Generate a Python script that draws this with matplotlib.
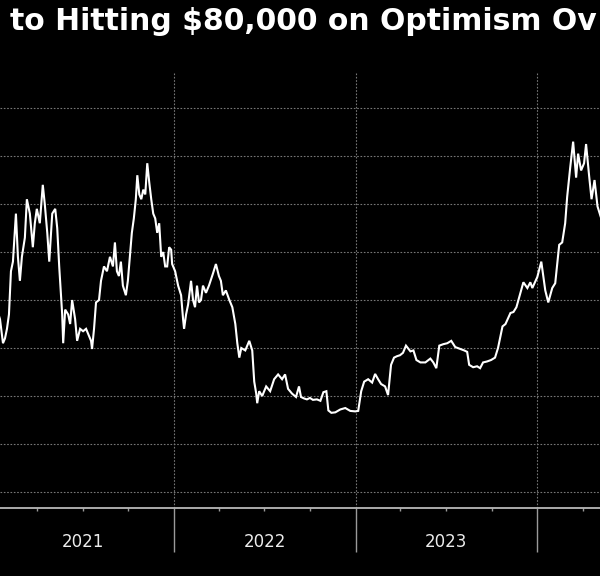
import matplotlib
matplotlib.use("Agg")
import matplotlib.pyplot as plt
import matplotlib.dates as mdates
import matplotlib.transforms as mtransforms
import pandas as pd

# Bitcoin price, thousands of USD
start = "2021-01-16"
day_offsets = [
    -6, 0, 6, 10, 14, 18, 22, 26, 32, 36, 40, 44, 50, 54, 60, 66, 70, 74, 80, 86,
    90, 95, 99, 105, 111, 115, 119, 125, 127, 131, 137, 141, 145, 151, 155, 161, 167, 173, 177, 183,
    185, 189, 193, 199, 203, 209, 215, 221, 227, 231, 235, 239, 243, 247, 253, 257, 261, 265, 269, 273,
    276, 280, 284, 288, 292, 296, 300, 304, 308, 312, 316, 320, 324, 328, 332, 336, 340, 344, 346, 352,
    358, 364, 368, 370, 374, 378, 384, 388, 392, 396, 400, 404, 408, 414, 420, 428, 434, 440, 444, 448,
    454, 461, 467, 473, 477, 481, 485, 493, 501, 507, 511, 515, 517, 521, 527, 535, 543, 551, 559, 567,
    573, 579, 587, 595, 601, 605, 611, 617, 623, 629, 637, 644, 650, 656, 660, 666, 674, 684, 694, 704,
    714, 720, 726, 732, 740, 748, 754, 760, 766, 774, 780, 786, 792, 798, 804, 810, 816, 825, 831, 837,
    845, 855, 865, 871, 877, 883, 891, 899, 907, 915, 925, 933, 939, 943, 951, 959, 965, 971, 979, 987,
    995, 1001, 1010, 1016, 1026, 1032, 1038, 1046, 1052, 1060, 1066, 1070, 1080, 1088, 1092, 1096, 1102, 1110, 1116, 1120,
    1124, 1130, 1136, 1140, 1146, 1152, 1158, 1162, 1168, 1174, 1178, 1184, 1189, 1195, 1201, 1207, 1213,
]
price_k = [
    38, 36, 31, 32, 34, 37, 46, 48, 58, 49, 44, 49, 53, 61, 58, 51, 56, 59, 56, 64,
    60, 54, 48, 58, 59, 55, 47, 37, 31, 38, 37, 35, 40, 36, 31.5, 34, 33.5, 34, 33, 31.5,
    29.8, 34, 39.5, 40, 44, 47, 46, 49, 47, 52, 46, 45, 48, 43, 41, 44, 49, 54, 57, 61,
    66, 62, 61, 63, 62, 68.5, 64.5, 61, 58, 57, 54, 56, 49, 50, 47, 47, 51, 50.5, 47.5, 46,
    43, 41, 36, 34, 37, 39, 44, 40, 38.5, 43, 39.5, 40, 43, 41.5, 43, 45.5, 47.5, 45, 44, 41,
    42, 40, 38.5, 35, 31, 28, 30, 29.5, 31.5, 29.5, 23, 20.5, 18.5, 21, 20, 22, 21, 23.5, 24.5, 23.5,
    24.5, 21.5, 20.5, 19.8, 22, 19.8, 19.5, 19.3, 19.6, 19.2, 19.3, 19, 20.8, 21, 17, 16.5, 16.6, 17.2, 17.5, 16.9,
    16.8, 16.9, 21, 23, 23.5, 22.8, 24.6, 23.5, 22.5, 22, 20.2, 26.5, 28, 28.3, 28.5, 29, 30.5, 29.3, 29.5, 27.5,
    27, 27, 27.8, 27, 25.8, 30.5, 30.8, 31, 31.5, 30.2, 29.8, 29.5, 29.2, 26.5, 26, 26.2, 25.8, 27, 27.2, 27.5,
    28, 30, 34.5, 35, 37.3, 37.5, 38.5, 41.5, 43.7, 42.5, 43.7, 42.5, 44.8, 48, 45, 42, 39.5, 42.5, 43.5, 47.5,
    51.5, 52, 56, 61.5, 67.5, 73, 65.5, 70.5, 67, 68.5, 72.5, 66, 61, 65, 59.5, 57.5, 58,
]
year_labels = ["2021", "2022", "2023"]
title = "to Hitting $80,000 on Optimism Ov"

dates = pd.Timestamp(start) + pd.to_timedelta(day_offsets, unit="D")

fig = plt.figure(figsize=(6, 5.76), dpi=100, facecolor="black")
ax = fig.add_axes([0, 68 / 576, 1, 435 / 576], facecolor="black")

ax.plot(dates, price_k, color="white", lw=1.5, solid_joinstyle="miter")

ax.set_xlim(pd.Timestamp("2021-01-16"), pd.Timestamp("2024-05-06"))
ax.set_ylim(-3.33, 87.3)

ax.set_yticks(range(0, 81, 10))
ax.yaxis.grid(True, color="#777777", ls=(0, (1.5, 1.5)), lw=0.8)
ax.tick_params(axis="y", left=False, labelleft=False)

ax.xaxis.set_major_locator(mdates.YearLocator())
ax.xaxis.set_minor_locator(mdates.MonthLocator(bymonth=[4, 7, 10]))
ax.xaxis.grid(True, which="major", color="#777777", ls=(0, (1.5, 1.5)), lw=0.8)
ax.tick_params(axis="x", which="major", length=31.5, width=1.0, color="#9a9a9a",
               direction="out", labelbottom=False)
ax.tick_params(axis="x", which="minor", length=2.2, width=1.0, color="#9a9a9a",
               direction="out")

for s in ["top", "left", "right"]:
    ax.spines[s].set_visible(False)
ax.spines["bottom"].set_color("#b8b8b8")
ax.spines["bottom"].set_linewidth(1.3)

trans = mtransforms.blended_transform_factory(ax.transData, fig.transFigure)
for lab in year_labels:
    ax.text(pd.Timestamp(f"{lab}-07-02"), 1 - 542 / 576, lab, transform=trans,
            ha="center", va="center", color="#ececec", fontsize=12)

fig.text(10 / 600, 1 - 22 / 576, title, color="white", fontsize=21.5,
         fontweight="bold", ha="left", va="center")

fig.savefig("out.png", dpi=100, facecolor="black")
